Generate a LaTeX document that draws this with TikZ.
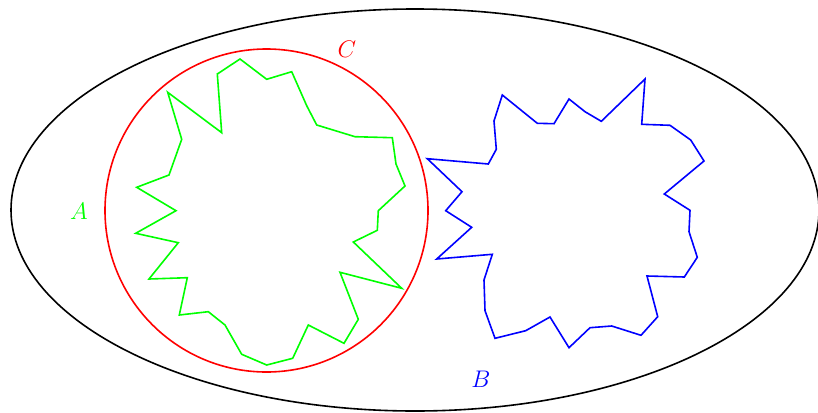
\documentclass[tikz,border=0pt]{standalone}
\begin{document}
\begin{tikzpicture}[x=0.5pt,y=-0.5pt,
  shape line/.style={line width=0.8pt, line join=miter},
  setlabel/.style={font=\fontsize{12.5}{15}\selectfont, inner sep=0pt}]
\useasboundingbox (0,0) rectangle (818,412);
% outer ellipse
\draw[shape line, black] (415,210) ellipse [x radius=404, y radius=201];
% circle C
\draw[shape line, red] (266.5,210.5) circle [radius=161.5];
% green set A
\draw[shape line, green] (240,59) -- (266.7,79.3) -- (291.7,71.7) -- (306.7,105.7) -- (316.7,125) -- (355,136.7) -- (392.3,137.7) -- (396,164) -- (405,186) -- (378.3,210.7) -- (377.3,230.3) -- (353.3,242) -- (401.7,288.3) -- (340,272.3) -- (358.3,319.3) -- (344,343.3) -- (308.3,325) -- (292.7,358.3) -- (266.7,365) -- (241.7,354.3) -- (225,325) -- (208.3,311.7) -- (179.3,315) -- (187.3,277.7) -- (149,279) -- (178.3,242.7) -- (135.7,233.3) -- (176,210.7) -- (136.7,187.3) -- (169,175) -- (181.7,139.3) -- (167.7,92.3) -- (221.7,132.7) -- (217.3,74) -- cycle;
% blue set B
\draw[shape line, blue] (645,79) -- (641.7,124.3) -- (670,125.3) -- (690.7,140) -- (704,161) -- (664.3,194) -- (690,210.3) -- (689,231.7) -- (697.3,257.3) -- (684.3,277) -- (647,276) -- (657.7,316.7) -- (641,335.3) -- (611.7,326) -- (590,327.7) -- (569,347.7) -- (550,317) -- (525.7,330.7) -- (495,338.3) -- (485,310.7) -- (484,280) -- (492.3,254.3) -- (436.7,259) -- (471.7,227.3) -- (445.7,210.7) -- (462,191.7) -- (427.3,158.7) -- (488.3,164) -- (496.3,149.3) -- (494,121) -- (502.3,95) -- (537.3,123.3) -- (554,123.7) -- (569,99) -- (585,111.7) -- (601.3,121.3) -- cycle;
% labels
\node[setlabel, text=green] (labA) at (79,211) {$A$};
\node[setlabel, text=red] (labC) at (347,49) {$C$};
\node[setlabel, text=blue] (labB) at (481,379) {$B$};
\end{tikzpicture}
\end{document}
